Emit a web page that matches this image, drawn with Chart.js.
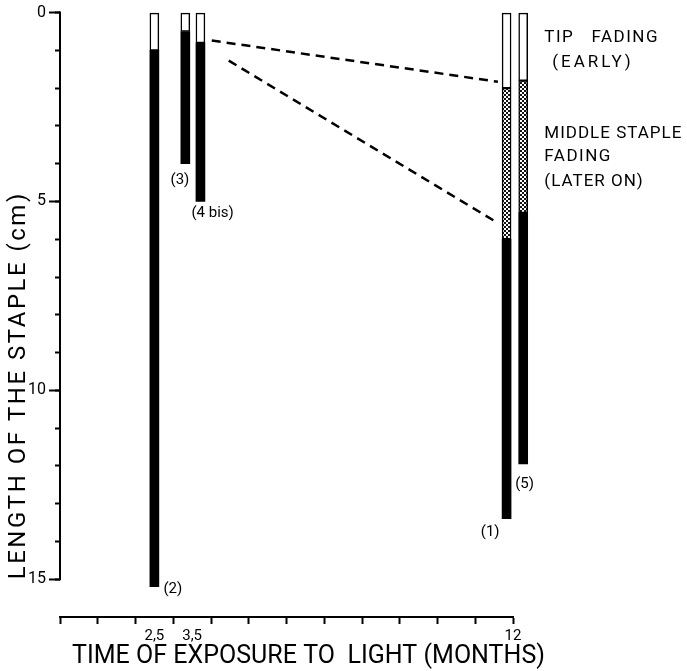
<!DOCTYPE html>
<html>
<head>
<meta charset="utf-8">
<script src="https://cdn.jsdelivr.net/npm/chart.js@4.4.1/dist/chart.umd.min.js"></script>
<style>
  html, body { margin: 0; padding: 0; background: #fff; }
  canvas { display: block; }
</style>
</head>
<body>
<canvas id="chart" width="687" height="671"></canvas>
<script>
// staples, left to right
const staples = ['(2)', '(3)', '(4 bis)', '(1)', '(5)']
const months = [2.5, 3.32, 3.72, 11.83, 12.27]
const tipEnd = [1.0, 0.5, 0.8, 2.0, 1.8]
const middleEnd = [null, null, null, 6.0, 5.3]
const stapleLength = [15.2, 4.0, 5.0, 13.4, 11.95]

// dashed guide lines towards the 12 month staple
const earlyX = [4.02, 11.6]
const earlyY = [0.74, 1.83]
const laterX = [4.47, 11.6]
const laterY = [1.27, 5.57]

const yLabelTicks = [0, 5, 10, 15]
const yMinorTicks = [0, 1, 2, 3, 4, 5, 6, 7, 8, 9, 10, 11, 12, 13, 14, 15]
const xTicks = [0, 1, 2, 3, 4, 5, 6, 7, 8, 9, 10, 11, 12]
const xLabelValues = [2.5, 3.5, 12]
const xLabelText = ['2,5', '3,5', '12']

const notes = ['TIP   FADING', '(EARLY)', 'MIDDLE STAPLE', 'FADING', '(LATER ON)']
const xTitle = 'TIME OF EXPOSURE TO  LIGHT (MONTHS)'
const yTitle = 'LENGTH OF THE STAPLE (cm)'

const FONT = 'Roboto, "DejaVu Sans", sans-serif'
Chart.defaults.color = '#000'
Chart.defaults.font.family = FONT

// dotted fill of the middle part
function stipple() {
  const c = document.createElement('canvas')
  c.width = 4
  c.height = 4
  const g = c.getContext('2d')
  g.fillStyle = '#111'
  g.fillRect(0, 0, 4, 4)
  g.fillStyle = '#fff'
  g.fillRect(0, 0, 2, 2)
  g.fillRect(2, 2, 2, 2)
  return g.createPattern(c, 'repeat')
}

const tipData = months.map((m, i) => ({ x: m, y: [0, tipEnd[i]] }))
const middleData = months
  .map((m, i) => middleEnd[i] == null ? null : { x: m, y: [tipEnd[i], middleEnd[i]] })
  .filter(d => d)
const restData = months.map((m, i) => ({ x: m, y: [middleEnd[i] ?? tipEnd[i], stapleLength[i]] }))

// label placement next to each staple end: [dx, dy, align]
const labelPlace = [[9, 2, 'left'], [4, 17, 'right'], [-9, 12, 'left'], [-7, 13, 'right'], [-8, 20, 'left']]
// notes at the right: [x in months, y in cm, letter spacing]
const notePlace = [[12.83, 0.66, 1.5], [13.04, 1.33, 3], [12.83, 3.21, 1], [12.83, 3.82, 1.5], [12.83, 4.49, 1]]

// spread text so it covers a given width
function spacedText(ctx, text, x, y, width) {
  ctx.letterSpacing = '0px'
  const w = ctx.measureText(text).width
  ctx.letterSpacing = ((width - w) / text.length) + 'px'
  ctx.fillText(text, x, y)
}

const notesPlugin = {
  id: 'notes',
  afterDraw(chart) {
    const { ctx, chartArea, scales: { x, y } } = chart
    ctx.save()
    // y axis line, only over 0..15
    ctx.strokeStyle = '#000'
    ctx.lineWidth = 2
    ctx.beginPath()
    ctx.moveTo(chartArea.left, y.getPixelForValue(0) - 1)
    ctx.lineTo(chartArea.left, y.getPixelForValue(15) + 1)
    ctx.stroke()

    ctx.fillStyle = '#000'
    ctx.textBaseline = 'middle'
    ctx.font = '15px ' + FONT
    staples.forEach((s, i) => {
      const [dx, dy, align] = labelPlace[i]
      ctx.textAlign = align
      ctx.fillText(s, x.getPixelForValue(months[i]) + dx, y.getPixelForValue(stapleLength[i]) + dy)
    })

    ctx.textAlign = 'left'
    ctx.font = '17px ' + FONT
    notes.forEach((t, i) => {
      ctx.letterSpacing = notePlace[i][2] + 'px'
      ctx.fillText(t, x.getPixelForValue(notePlace[i][0]), y.getPixelForValue(notePlace[i][1]))
    })

    // x title
    ctx.font = '25px ' + FONT
    spacedText(ctx, xTitle, chartArea.left + 12, chartArea.bottom + 40, 473)

    // y title
    ctx.font = '24px ' + FONT
    ctx.translate(chartArea.left - 41, y.getPixelForValue(15))
    ctx.rotate(-Math.PI / 2)
    spacedText(ctx, yTitle, 0, 0, 388)
    ctx.restore()
  }
}

const barBase = {
  type: 'bar',
  grouped: false,
  barThickness: 9,
  borderSkipped: false,
  clip: false
}

new Chart(document.getElementById('chart'), {
  type: 'bar',
  data: {
    datasets: [
      { ...barBase, label: 'rest', data: restData, backgroundColor: '#000', borderWidth: 0 },
      { ...barBase, label: 'middle', data: middleData, backgroundColor: stipple(), borderColor: '#000', borderWidth: 1.5 },
      { ...barBase, label: 'tip', data: tipData, backgroundColor: '#fff', borderColor: '#000', borderWidth: 1.5 },
      {
        type: 'line', label: 'early', data: earlyX.map((v, i) => ({ x: v, y: earlyY[i] })),
        borderColor: '#000', borderWidth: 2.5, borderDash: [9, 6], pointRadius: 0, clip: false
      },
      {
        type: 'line', label: 'later', data: laterX.map((v, i) => ({ x: v, y: laterY[i] })),
        borderColor: '#000', borderWidth: 2.5, borderDash: [9, 6], pointRadius: 0, clip: false
      }
    ]
  },
  options: {
    responsive: false,
    animation: false,
    devicePixelRatio: 1,
    layout: { padding: { top: 4, right: 174, left: 0, bottom: 0 } },
    plugins: { legend: { display: false }, tooltip: { enabled: false } },
    scales: {
      x: {
        type: 'linear',
        min: 0,
        max: 12,
        offset: false,
        afterBuildTicks: s => { s.ticks = xTicks.concat(xLabelValues.slice(0, 2)).map(v => ({ value: v })) },
        afterFit: s => { s.height = 54 },
        grid: {
          offset: false,
          drawOnChartArea: false,
          tickLength: 7,
          tickWidth: 2,
          tickColor: c => (c.tick && c.tick.value % 1) ? 'rgba(0,0,0,0)' : '#000'
        },
        border: { color: '#000', width: 2 },
        ticks: {
          autoSkip: false,
          maxRotation: 0,
          padding: 3,
          font: { size: 15 },
          callback: v => {
            const k = xLabelValues.indexOf(v)
            return k < 0 ? '' : xLabelText[k]
          }
        }
      },
      y: {
        type: 'linear',
        reverse: true,
        min: 0,
        max: 16,
        weight: 1,
        afterBuildTicks: s => { s.ticks = yLabelTicks.map(v => ({ value: v })) },
        afterFit: s => { s.width = 60 },
        grid: { drawOnChartArea: false, tickLength: 11, tickWidth: 2, tickColor: '#000' },
        border: { display: false },
        ticks: { padding: 3, font: { size: 16 } }
      },
      yMinor: {
        type: 'linear',
        position: 'left',
        reverse: true,
        min: 0,
        max: 16,
        weight: 0,
        afterBuildTicks: s => { s.ticks = yMinorTicks.map(v => ({ value: v })) },
        afterFit: s => { s.width = 0 },
        grid: { drawOnChartArea: false, tickLength: 5, tickWidth: 2, tickColor: '#000' },
        border: { display: false },
        ticks: { display: false }
      }
    }
  },
  plugins: [notesPlugin]
})
</script>
</body>
</html>
